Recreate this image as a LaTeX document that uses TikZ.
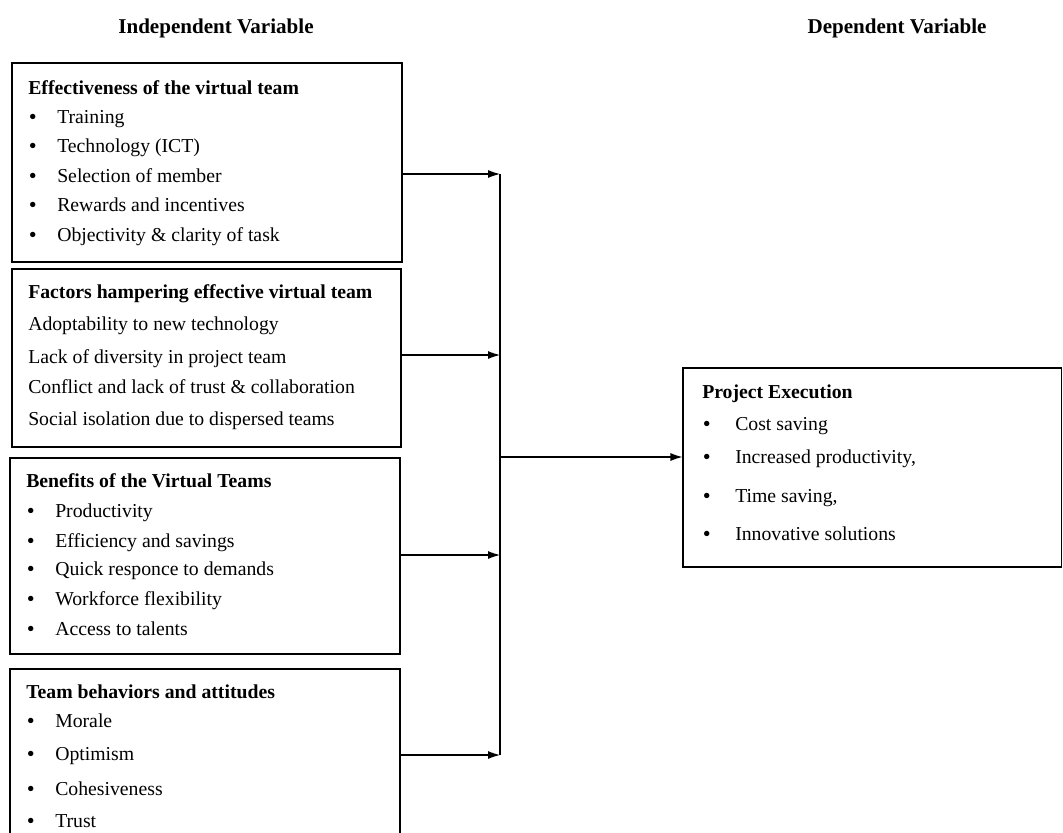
\documentclass[tikz,border=0pt]{standalone}
\usepackage{fontspec}
\setmainfont{Liberation Serif}
\usetikzlibrary{arrows.meta,fit}
\begin{document}
\begin{tikzpicture}[x=0.75pt,y=-0.75pt,
  box/.style={draw,line width=0.8pt,inner sep=0pt},
  txt/.style={anchor=base west,inner sep=0pt,font=\fontsize{14.8}{17}\selectfont},
  ttl/.style={txt,font=\fontsize{14.8}{17}\selectfont\bfseries},
  bul/.style={anchor=base west,inner sep=0pt,font=\fontsize{14.8}{17}\selectfont\bfseries},
  hdr/.style={anchor=base,inner sep=0pt,font=\fontsize{15.8}{18}\selectfont\bfseries},
  conn/.style={line width=0.8pt},
  arr/.style={line width=0.8pt,-{Latex[length=9pt,width=6pt]}}]
\useasboundingbox (0,0) rectangle (1063,832);
% headers
\node[hdr] (h1) at (216,33) {Independent Variable};
\node[hdr] (h2) at (897,33) {Dependent Variable};
% boxes
\node[box,fit={(12,63)(402,262)}] (b1) {};
\node[box,fit={(12,269)(401,447)}] (b2) {};
\node[box,fit={(10,458)(400,654)}] (b3) {};
\node[box,fit={(10,669)(400,860)}] (b4) {};
\node[box,fit={(683,368)(1061.5,567)}] (b5) {};
% box 1
\node[ttl] (t1) at (28,94) {Effectiveness of the virtual team};
\foreach \y/\t [count=\i] in {123/Training,152/Technology (ICT),182/Selection of member,211/Rewards and incentives,241/Objectivity \& clarity of task}{
  \node[bul] (b1d\i) at (29,\y) {•};
  \node[txt] (b1t\i) at (57,\y) {\t};
}
% box 2
\node[ttl] (t2) at (28,298) {Factors hampering effective virtual team};
\node[txt] (b2t1) at (28,330) {Adoptability to new technology};
\node[txt] (b2t2) at (28,363) {Lack of diversity in project team};
\node[txt] (b2t3) at (28,393) {Conflict and lack of trust \& collaboration};
\node[txt] (b2t4) at (28,425) {Social isolation due to dispersed teams};
% box 3
\node[ttl] (t3) at (26,487) {Benefits of the Virtual Teams};
\foreach \y/\t [count=\i] in {517/Productivity,547/Efficiency and savings,575/Quick responce to demands,605/Workforce flexibility,635/Access to talents}{
  \node[bul] (b3d\i) at (27,\y) {•};
  \node[txt] (b3t\i) at (55,\y) {\t};
}
% box 4
\node[ttl] (t4) at (26,698) {Team behaviors and attitudes};
\foreach \y/\t [count=\i] in {727/Morale,760/Optimism,795/Cohesiveness,827/Trust}{
  \node[bul] (b4d\i) at (27,\y) {•};
  \node[txt] (b4t\i) at (55,\y) {\t};
}
% box 5
\node[ttl] (t5) at (702,398) {Project Execution};
\foreach \y/\t [count=\i] in {430/Cost saving,463/{Increased productivity,},502/{Time saving,},540/Innovative solutions}{
  \node[bul] (b5d\i) at (703,\y) {•};
  \node[txt] (b5t\i) at (735,\y) {\t};
}
% connectors
\coordinate (j1) at (500,174);
\coordinate (j2) at (500,355);
\coordinate (j3) at (500,555);
\coordinate (j4) at (500,755);
\coordinate (jm) at (500,457);
\draw[conn] (j1) -- (j4);
\draw[arr] (b1.east |- j1) -- (j1);
\draw[arr] (b2.east |- j2) -- (j2);
\draw[arr] (b3.east |- j3) -- (j3);
\draw[arr] (b4.east |- j4) -- (j4);
\draw[arr] (jm) -- (b5.west |- jm);
\end{tikzpicture}
\end{document}
